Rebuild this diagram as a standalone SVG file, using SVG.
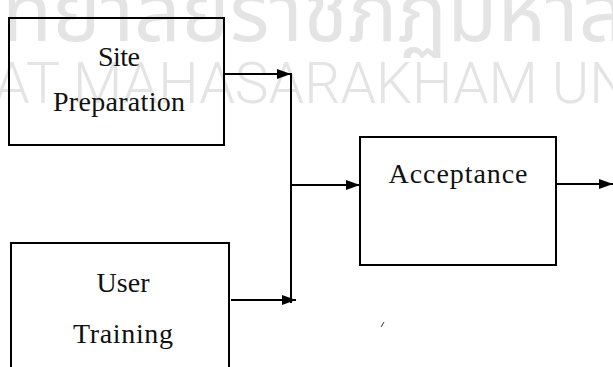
<svg xmlns="http://www.w3.org/2000/svg" width="613" height="367" viewBox="0 0 613 367">
  <style>
    .box { fill: none; stroke: #000; stroke-width: 2; }
    .wire { fill: none; stroke: #000; stroke-width: 2; }
    .label { font-family: "Liberation Serif", "Times New Roman", serif; font-size: 28px; fill: #111; text-anchor: middle; }
    .wm { fill: #e4e4e4; }
  </style>
  <defs>
    <marker id="arrow" viewBox="0 0 14 10" refX="14" refY="5" markerWidth="14" markerHeight="10" markerUnits="userSpaceOnUse" orient="auto">
      <path d="M0,0 L14,5 L0,10 Z" fill="#000"/>
    </marker>
  </defs>

  <rect width="613" height="367" fill="#fff"/>

  <!-- background watermark -->
  <g id="watermark">
    <text class="wm" x="-170" y="41" font-family="'Noto Sans Thai', 'Noto Sans', 'DejaVu Sans', sans-serif" font-size="82">มหาวิทยาลัยราชภัฏมหาสารคาม</text>
    <text class="wm" x="-220" y="103" font-family="Roboto, 'Liberation Sans', sans-serif" font-weight="300" font-size="57">RAJABHAT MAHASARAKHAM UNIVERSITY</text>
  </g>

  <g id="connectors">
    <path class="wire" d="M224,74 H291" marker-end="url(#arrow)"/>
    <path class="wire" d="M291,73 V303"/>
    <path class="wire" d="M231,300 H296" marker-end="url(#arrow)"/>
    <path class="wire" d="M291,185 H360" marker-end="url(#arrow)"/>
    <path class="wire" d="M556,184 H613" marker-end="url(#arrow)"/>
  </g>

  <g id="site-preparation">
    <rect class="box" x="9" y="18" width="215" height="127"/>
    <text class="label" x="119" y="66" textLength="42">Site</text>
    <text class="label" x="119" y="111" textLength="132">Preparation</text>
  </g>

  <g id="user-training">
    <rect class="box" x="11" y="243" width="218" height="135"/>
    <text class="label" x="123" y="292" textLength="53">User</text>
    <text class="label" x="123" y="343" textLength="100">Training</text>
  </g>

  <g id="acceptance">
    <rect class="box" x="360" y="137" width="196" height="128"/>
    <text class="label" x="458" y="183" textLength="139">Acceptance</text>
  </g>

  <!-- small stray stroke below the acceptance box -->
  <path d="M381,327 L384,322" stroke="#333" stroke-width="1" fill="none"/>
</svg>
